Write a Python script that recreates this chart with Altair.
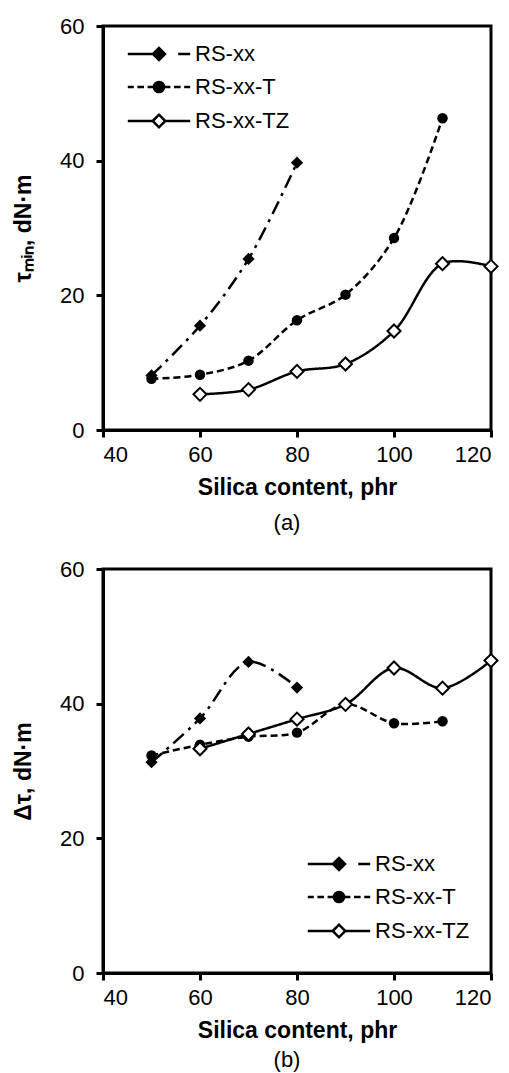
import altair as alt
import pandas as pd

FONT = "Liberation Sans"
names = ["RS-xx", "RS-xx-T", "RS-xx-TZ"]
x_ticks = [40, 60, 80, 100, 120]
y_ticks = [0, 20, 40, 60]

# Panel (a): tau_min
a_xx_x = [50, 60, 70, 80]
a_xx_y = [8.1, 15.5, 25.4, 39.7]
a_t_x = [50, 60, 70, 80, 90, 100, 110]
a_t_y = [7.6, 8.2, 10.3, 16.3, 20.1, 28.5, 46.3]
a_tz_x = [60, 70, 80, 90, 100, 110, 120]
a_tz_y = [5.3, 6.0, 8.7, 9.8, 14.7, 24.7, 24.3]

# Panel (b): delta tau
b_xx_x = [50, 60, 70, 80]
b_xx_y = [31.3, 37.8, 46.2, 42.4]
b_t_x = [50, 60, 70, 80, 90, 100, 110]
b_t_y = [32.3, 33.9, 35.1, 35.7, 39.9, 37.1, 37.4]
b_tz_x = [60, 70, 80, 90, 100, 110, 120]
b_tz_y = [33.3, 35.5, 37.7, 39.9, 45.3, 42.3, 46.4]

# legend glyphs (line + marker) as custom symbol paths
leg_paths = [
    "M-5.2,0L-0.9,0M3.2,0L5.2,0M-1,0L0,-1L1,0L0,1Z",
    "M-5.2,0L-4.2,0M-3.6,0L-2.5,0M-1.9,0L-0.8,0M0.8,0L1.9,0M2.5,0L3.6,0M4.2,0L5.2,0"
    "M0.85,0A0.85,0.85,0,1,1,-0.85,0A0.85,0.85,0,1,1,0.85,0Z",
    "M-5.2,0L-1.05,0M1.05,0L5.2,0M-1.05,0L0,-1.05L1.05,0L0,1.05Z",
]
dashes = [[14, 6, 3, 6], [7, 4], [1, 0]]


def panel(xx, yx, xt, yt, xz, yz, ytitle, caption, cap_offset, legend_kw):
    df = pd.DataFrame({
        "x": xx + xt + xz,
        "y": yx + yt + yz,
        "series": [names[0]] * len(xx) + [names[1]] * len(xt) + [names[2]] * len(xz),
    })
    xenc = alt.X("x:Q", scale=alt.Scale(domain=[40, 120], nice=False, zero=False),
                 axis=alt.Axis(values=x_ticks, title="Silica content, phr",
                               labelPadding=7, titlePadding=11))
    yenc = alt.Y("y:Q", scale=alt.Scale(domain=[0, 60], nice=False),
                 axis=alt.Axis(values=y_ticks, title=ytitle, labelPadding=12,
                               titlePadding=24))
    base = alt.Chart(df)
    layers = []
    for name, dash in zip(names, dashes):
        layers.append(
            base.transform_filter(alt.datum.series == name).mark_line(
                interpolate="catmull-rom", color="black", strokeWidth=2.5,
                strokeDash=dash).encode(x=xenc, y=yenc)
        )
    layers.append(base.transform_filter(alt.datum.series == names[0]).mark_point(
        shape="diamond", filled=True, color="black", size=150, opacity=1).encode(x=xenc, y=yenc))
    layers.append(base.transform_filter(alt.datum.series == names[1]).mark_point(
        shape="circle", filled=True, color="black", size=110, opacity=1).encode(x=xenc, y=yenc))
    layers.append(base.transform_filter(alt.datum.series == names[2]).mark_point(
        shape="diamond", filled=True, fill="white", stroke="black", strokeWidth=2,
        size=170, opacity=1).encode(x=xenc, y=yenc))
    legend = alt.Legend(title=None, labelFont=FONT, labelFontSize=22, labelColor="black",
                        labelOffset=25, rowPadding=11, padding=0,
                        symbolSize=144, symbolStrokeWidth=2.5, symbolOpacity=1,
                        **legend_kw)
    layers.append(base.transform_filter("datum.y > 1000").mark_point(
        filled=True, opacity=1, strokeWidth=2.5).encode(
        x=xenc, y=yenc,
        fill=alt.Fill("series:N", scale=alt.Scale(domain=names, range=["black", "black", "white"]),
                      legend=legend),
        stroke=alt.Stroke("series:N", scale=alt.Scale(domain=names, range=["black", "black", "black"]),
                          legend=legend),
        shape=alt.Shape("series:N", scale=alt.Scale(domain=names, range=leg_paths),
                        legend=legend),
    ))
    return alt.layer(*layers).properties(
        width=388, height=404,
        title=alt.TitleParams(text=caption, orient="bottom", font=FONT, fontSize=22,
                              fontWeight="normal", color="black", offset=cap_offset, dx=-10),
    )


top = panel(a_xx_x, a_xx_y, a_t_x, a_t_y, a_tz_x, a_tz_y,
            "τₘᵢₙ, dN·m", "(a)", 14, dict(orient="none", legendX=45, legendY=17))
bottom = panel(b_xx_x, b_xx_y, b_t_x, b_t_y, b_tz_x, b_tz_y,
               "Δτ, dN·m", "(b)", 8, dict(orient="none", legendX=225, legendY=284))

chart = alt.vconcat(top, bottom, spacing=20).resolve_scale(
    fill="independent", shape="independent", stroke="independent"
).resolve_legend(fill="independent", shape="independent", stroke="independent").properties(
    padding={"left": 11, "top": 13, "right": 2, "bottom": 2},
    background="white",
).configure_view(stroke="black", strokeWidth=3).configure_axis(
    grid=False, domainColor="black", domainWidth=3, tickColor="black", tickWidth=3,
    tickSize=7, labelFont=FONT, labelFontSize=22, labelColor="black",
    titleFont=FONT, titleFontSize=23, titleFontWeight="bold", titleColor="black",
)

chart.save("out.html", embed_options={"renderer": "svg", "actions": False})
